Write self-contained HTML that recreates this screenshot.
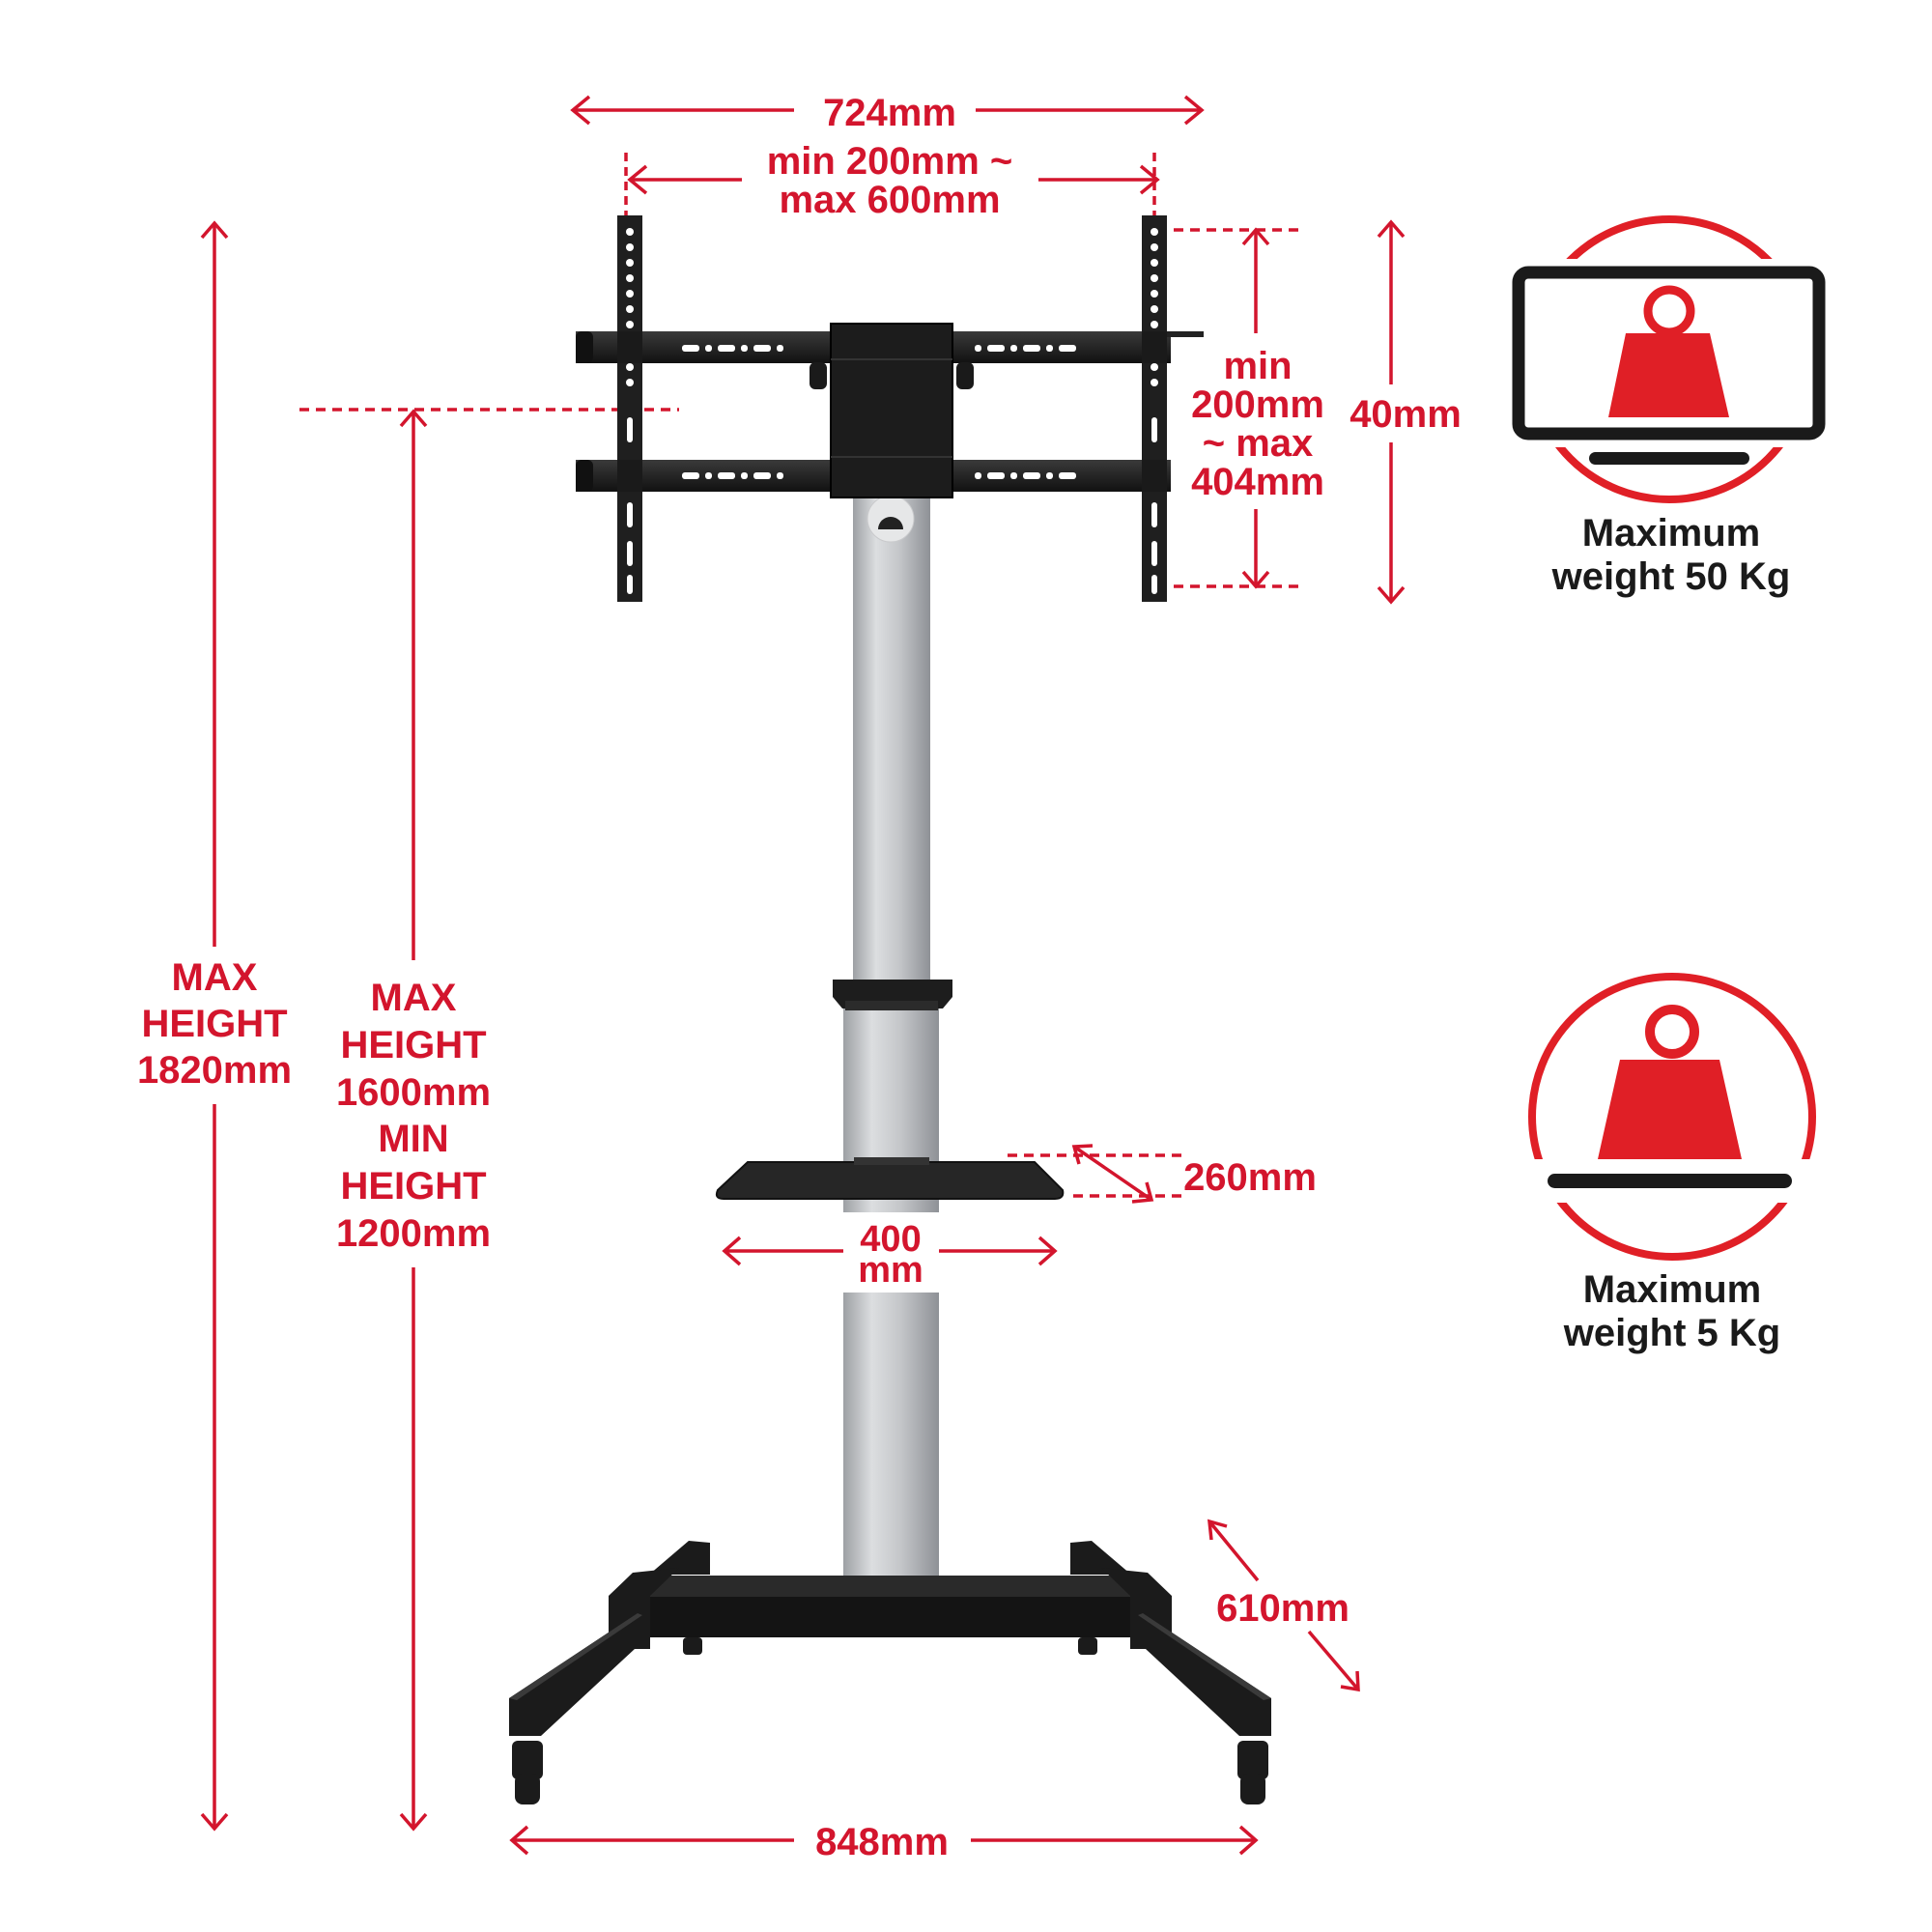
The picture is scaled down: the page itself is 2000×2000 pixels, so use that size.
<!DOCTYPE html>
<html><head><meta charset="utf-8"><style>
html,body{margin:0;padding:0;background:#fff;}
svg{display:block;}
.r{fill:#d3152d;font-family:"Liberation Sans",sans-serif;font-weight:bold;font-size:40px;text-anchor:middle;}
.k{fill:#1a1a1a;font-family:"Liberation Sans",sans-serif;font-weight:bold;font-size:40px;text-anchor:middle;}
</style></head><body>
<svg width="2000" height="2000" viewBox="0 0 2000 2000" xmlns="http://www.w3.org/2000/svg">
<defs>
<linearGradient id="col" x1="0" x2="1"><stop offset="0" stop-color="#9da0a4"/><stop offset="0.3" stop-color="#dcdee0"/><stop offset="0.6" stop-color="#c4c6c9"/><stop offset="1" stop-color="#8e9196"/></linearGradient>
<linearGradient id="blk" x1="0" y1="0" x2="0" y2="1"><stop offset="0" stop-color="#3a3a3a"/><stop offset="1" stop-color="#111"/></linearGradient>
</defs>
<g stroke="#d3152d" stroke-width="3.5" fill="none">
<!-- 724 -->
<line x1="593" y1="114" x2="822" y2="114"/><line x1="1010" y1="114" x2="1244" y2="114"/>
<polyline points="610,100 593,114 610,128"/><polyline points="1227,100 1244,114 1227,128"/>
<!-- min200 horizontal -->
<line x1="652" y1="186" x2="768" y2="186"/><line x1="1075" y1="186" x2="1198" y2="186"/>
<polyline points="669,172 652,186 669,200"/><polyline points="1181,172 1198,186 1181,200"/>
<line x1="648" y1="158" x2="648" y2="245" stroke-dasharray="9,6"/>
<line x1="1195" y1="158" x2="1195" y2="245" stroke-dasharray="9,6"/>
<!-- dashed horizontal right -->
<line x1="1198" y1="238" x2="1350" y2="238" stroke-dasharray="10,7"/>
<line x1="1198" y1="607" x2="1350" y2="607" stroke-dasharray="10,7"/>
<!-- min200 vertical -->
<line x1="1300" y1="238" x2="1300" y2="345"/><line x1="1300" y1="527" x2="1300" y2="607"/>
<polyline points="1287,253 1300,238 1313,253"/><polyline points="1287,592 1300,607 1313,592"/>
<!-- 40mm vertical -->
<line x1="1440" y1="230" x2="1440" y2="398"/><line x1="1440" y1="458" x2="1440" y2="623"/>
<polyline points="1427,245 1440,230 1453,245"/><polyline points="1427,608 1440,623 1453,608"/>
<!-- left dashed -->
<line x1="310" y1="424" x2="703" y2="424" stroke-dasharray="10,7"/>
<!-- 1820 -->
<line x1="222" y1="231" x2="222" y2="980"/><line x1="222" y1="1143" x2="222" y2="1893"/>
<polyline points="209,246 222,231 235,246"/><polyline points="209,1878 222,1893 235,1878"/>
<!-- 1600 -->
<line x1="428" y1="426" x2="428" y2="994"/><line x1="428" y1="1312" x2="428" y2="1893"/>
<polyline points="415,441 428,426 441,441"/><polyline points="415,1878 428,1893 441,1878"/>
<!-- 260 -->
<line x1="1043" y1="1196" x2="1225" y2="1196" stroke-dasharray="10,7"/>
<line x1="1111" y1="1238" x2="1225" y2="1238" stroke-dasharray="10,7"/>
<line x1="1112" y1="1187" x2="1192" y2="1242"/>
<polyline points="1117,1205 1112,1187 1131,1186"/><polyline points="1172,1244 1192,1242 1187,1224"/>
<!-- 400 -->
<line x1="750" y1="1295" x2="873" y2="1295"/><line x1="972" y1="1295" x2="1092" y2="1295"/>
<polyline points="766,1281 750,1295 766,1309"/><polyline points="1076,1281 1092,1295 1076,1309"/>
<!-- 610 -->
<line x1="1252" y1="1575" x2="1302" y2="1636"/><line x1="1355" y1="1689" x2="1406" y2="1749"/>
<polyline points="1254,1594 1252,1575 1270,1580"/><polyline points="1388,1746 1406,1749 1405,1730"/>
<!-- 848 -->
<line x1="530" y1="1905" x2="822" y2="1905"/><line x1="1005" y1="1905" x2="1300" y2="1905"/>
<polyline points="546,1891 530,1905 546,1919"/><polyline points="1284,1891 1300,1905 1284,1919"/>
</g>

<!-- Column -->
<rect x="883" y="505" width="80" height="510" fill="url(#col)"/>
<circle cx="922" cy="537" r="24" fill="#e6e7e8" stroke="#c9cacc"/>
<path d="M909 548 a13 13 0 1 1 26 0 z" fill="#222"/>
<rect x="873" y="1043" width="99" height="612" fill="url(#col)"/>
<path d="M862 1014 h124 v18 l-10 12 h-104 l-10 -12z" fill="#1d1d1d"/>
<rect x="875" y="1036" width="96" height="10" fill="#2b2b2b"/>

<!-- Shelf -->
<path d="M774 1203 L1071 1203 L1100 1232 Q1102 1241 1092 1241 L749 1241 Q739 1241 743 1232 Z" fill="#262626" stroke="#111" stroke-width="2"/>
<rect x="884" y="1198" width="78" height="8" fill="#333"/>
<rect x="873" y="1255" width="99" height="83" fill="#fff"/>

<!-- Mount brackets vertical -->
<rect x="639" y="223" width="26" height="400" fill="#1f1f1f"/>
<rect x="1182" y="223" width="26" height="400" fill="#1f1f1f"/>
<g fill="#fff">
<circle cx="652" cy="240" r="4"/><circle cx="652" cy="256" r="4"/><circle cx="652" cy="272" r="4"/><circle cx="652" cy="288" r="4"/><circle cx="652" cy="304" r="4"/><circle cx="652" cy="320" r="4"/><circle cx="652" cy="336" r="4"/><circle cx="652" cy="380" r="4"/><circle cx="652" cy="396" r="4"/>
<circle cx="1195" cy="240" r="4"/><circle cx="1195" cy="256" r="4"/><circle cx="1195" cy="272" r="4"/><circle cx="1195" cy="288" r="4"/><circle cx="1195" cy="304" r="4"/><circle cx="1195" cy="320" r="4"/><circle cx="1195" cy="336" r="4"/><circle cx="1195" cy="380" r="4"/><circle cx="1195" cy="396" r="4"/>
<rect x="649" y="432" width="6" height="26" rx="3"/><rect x="649" y="520" width="6" height="26" rx="3"/><rect x="649" y="560" width="6" height="26" rx="3"/><rect x="649" y="595" width="6" height="20" rx="3"/>
<rect x="1192" y="432" width="6" height="26" rx="3"/><rect x="1192" y="520" width="6" height="26" rx="3"/><rect x="1192" y="560" width="6" height="26" rx="3"/><rect x="1192" y="595" width="6" height="20" rx="3"/>
</g>
<!-- horizontal bars -->
<rect x="596" y="343" width="616" height="33" fill="url(#blk)"/>
<rect x="596" y="476" width="616" height="33" fill="url(#blk)"/>
<rect x="596" y="343" width="18" height="33" rx="6" fill="#111"/>
<rect x="596" y="476" width="18" height="33" rx="6" fill="#111"/>
<rect x="1208" y="343" width="38" height="6" fill="#222"/>
<rect x="639" y="343" width="26" height="33" fill="#1a1a1a"/><rect x="1182" y="343" width="26" height="33" fill="#1a1a1a"/>
<rect x="639" y="476" width="26" height="33" fill="#1a1a1a"/><rect x="1182" y="476" width="26" height="33" fill="#1a1a1a"/>
<g fill="#fff">
<rect x="706" y="357" width="18" height="7" rx="3"/><rect x="730" y="357" width="7" height="7" rx="3"/><rect x="743" y="357" width="18" height="7" rx="3"/><rect x="767" y="357" width="7" height="7" rx="3"/><rect x="780" y="357" width="18" height="7" rx="3"/><rect x="804" y="357" width="7" height="7" rx="3"/>
<rect x="1009" y="357" width="7" height="7" rx="3"/><rect x="1022" y="357" width="18" height="7" rx="3"/><rect x="1046" y="357" width="7" height="7" rx="3"/><rect x="1059" y="357" width="18" height="7" rx="3"/><rect x="1083" y="357" width="7" height="7" rx="3"/><rect x="1096" y="357" width="18" height="7" rx="3"/>
<rect x="706" y="489" width="18" height="7" rx="3"/><rect x="730" y="489" width="7" height="7" rx="3"/><rect x="743" y="489" width="18" height="7" rx="3"/><rect x="767" y="489" width="7" height="7" rx="3"/><rect x="780" y="489" width="18" height="7" rx="3"/><rect x="804" y="489" width="7" height="7" rx="3"/>
<rect x="1009" y="489" width="7" height="7" rx="3"/><rect x="1022" y="489" width="18" height="7" rx="3"/><rect x="1046" y="489" width="7" height="7" rx="3"/><rect x="1059" y="489" width="18" height="7" rx="3"/><rect x="1083" y="489" width="7" height="7" rx="3"/><rect x="1096" y="489" width="18" height="7" rx="3"/>
</g>
<!-- center plate -->
<rect x="838" y="375" width="18" height="28" rx="6" fill="#1a1a1a"/><rect x="990" y="375" width="18" height="28" rx="6" fill="#1a1a1a"/>
<rect x="860" y="335" width="126" height="180" fill="#1c1c1c" stroke="#000" stroke-width="2"/>
<line x1="860" y1="372" x2="986" y2="372" stroke="#333" stroke-width="2"/>
<line x1="860" y1="473" x2="986" y2="473" stroke="#333" stroke-width="2"/>

<!-- Base -->
<g fill="#1b1b1b">
<polygon points="672,1630 713,1595 735,1597 735,1630"/>
<polygon points="1171,1630 1130,1595 1108,1597 1108,1630"/>
<rect x="672" y="1631" width="499" height="64" fill="#141414"/>
<rect x="672" y="1631" width="499" height="22" fill="#2a2a2a"/>
<polygon points="527,1758 660,1670 657,1707 560,1797 527,1797"/>
<polygon points="1316,1758 1183,1670 1186,1707 1283,1797 1316,1797"/>
<polygon points="630,1652 655,1628 703,1623 673,1652 673,1707 630,1707"/>
<polygon points="1213,1652 1188,1628 1140,1623 1170,1652 1170,1707 1213,1707"/>
<rect x="707" y="1695" width="20" height="18" rx="4"/><rect x="1116" y="1695" width="20" height="18" rx="4"/>
<!-- wheels -->
<rect x="530" y="1802" width="32" height="40" rx="6"/><rect x="533" y="1836" width="26" height="32" rx="8"/>
<rect x="1281" y="1802" width="32" height="40" rx="6"/><rect x="1284" y="1836" width="26" height="32" rx="8"/>
</g>
<polygon points="527,1758 660,1670 665,1672 535,1760" fill="#3a3a3a"/>
<polygon points="1316,1758 1183,1670 1178,1672 1308,1760" fill="#3a3a3a"/>

<!-- Labels -->
<text class="r" x="921" y="130">724mm</text>
<text class="r" x="921" y="180">min 200mm ~</text>
<text class="r" x="921" y="220">max 600mm</text>
<text class="r" x="1302" y="392">min</text>
<text class="r" x="1302" y="432">200mm</text>
<text class="r" x="1302" y="472">~ max</text>
<text class="r" x="1302" y="512">404mm</text>
<text class="r" x="1455" y="442">40mm</text>
<text class="r" x="222" y="1025">MAX</text>
<text class="r" x="222" y="1073">HEIGHT</text>
<text class="r" x="222" y="1121">1820mm</text>
<text class="r" x="428" y="1046">MAX</text>
<text class="r" x="428" y="1095">HEIGHT</text>
<text class="r" x="428" y="1144">1600mm</text>
<text class="r" x="428" y="1192">MIN</text>
<text class="r" x="428" y="1241">HEIGHT</text>
<text class="r" x="428" y="1290">1200mm</text>
<text class="r" x="1294" y="1232">260mm</text>
<text class="r" x="922" y="1295" style="font-size:38px">400</text>
<text class="r" x="922" y="1327" style="font-size:38px">mm</text>
<text class="r" x="1328" y="1678">610mm</text>
<text class="r" x="913" y="1920">848mm</text>

<!-- Icon 1 -->
<circle cx="1728" cy="372" r="145" fill="none" stroke="#e01f26" stroke-width="8"/>
<rect x="1550" y="268" width="360" height="195" fill="#fff"/>
<rect x="1572" y="282" width="311" height="167" rx="10" fill="#fff" stroke="#1a1a1a" stroke-width="13"/>
<rect x="1645" y="468" width="166" height="13" rx="6.5" fill="#1a1a1a"/>
<circle cx="1728" cy="322" r="22" fill="none" stroke="#e01f26" stroke-width="9"/>
<path d="M1683 345 L1770 345 L1790 432 L1665 432 Z" fill="#e01f26"/>
<text class="k" x="1730" y="565">Maximum</text>
<text class="k" x="1730" y="610">weight 50 Kg</text>

<!-- Icon 2 -->
<circle cx="1731" cy="1156" r="145" fill="none" stroke="#e01f26" stroke-width="8"/>
<rect x="1570" y="1200" width="320" height="45" fill="#fff"/>
<rect x="1602" y="1215" width="253" height="15" rx="7.5" fill="#1a1a1a"/>
<circle cx="1731" cy="1068" r="23" fill="none" stroke="#e01f26" stroke-width="10"/>
<path d="M1677 1097 L1780 1097 L1803 1200 L1654 1200 Z" fill="#e01f26"/>
<text class="k" x="1731" y="1348">Maximum</text>
<text class="k" x="1731" y="1393">weight 5 Kg</text>
</svg>
</body></html>
